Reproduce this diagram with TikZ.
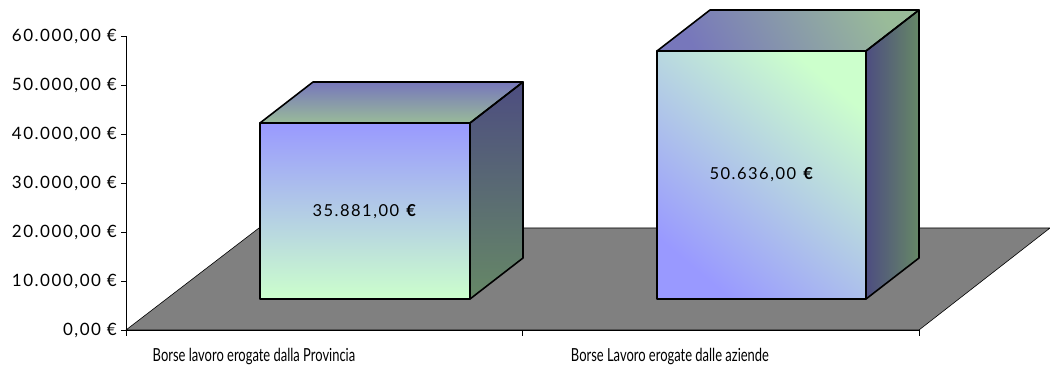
\documentclass[tikz,border=0pt]{standalone}
\usepackage{fontspec}
\setmainfont{Lato}[LetterSpace=9]
\newfontfamily\catfont{Lato}[FakeStretch=0.72]
\begin{document}
\begin{tikzpicture}[x=1pt,y=-1pt,
  axlab/.style={anchor=east,inner sep=0pt,font=\fontsize{17}{19}\selectfont},
  vallab/.style={inner sep=0pt,font=\fontsize{16.5}{18}\selectfont},
  catlab/.style={inner sep=0pt,font=\catfont\fontsize{18}{20}\selectfont},
  boxline/.style={draw=black,line width=1.6pt,line join=round},
  thinline/.style={draw=black,line width=0.7pt}]
\definecolor{fblue}{HTML}{9999FF}
\definecolor{fgreen}{HTML}{CCFFCC}
\definecolor{tblue}{HTML}{7777BB}
\definecolor{tgreen}{HTML}{99BB99}
\definecolor{sblue}{HTML}{4D4D80}
\definecolor{sgreen}{HTML}{668866}
\definecolor{floorgray}{HTML}{808080}
\useasboundingbox (0,0) rectangle (1050,374);
% floor
\filldraw[fill=floorgray,draw=black,line width=0.6pt] (126,330) -- (919,330) -- (1050,228) -- (259,228) -- cycle;
% axes
\draw[thinline] (126,36) -- (126,330) -- (919,330);
\foreach \i in {0,...,6} { \draw[thinline] (121,{330-49*\i}) -- (126,{330-49*\i}); }
\foreach \x in {126,522,919} { \draw[thinline] (\x,330) -- (\x,336); }
% axis labels
\node[axlab] (y0) at (117,330) {0,00 €};
\node[axlab] (y1) at (117,281) {10.000,00 €};
\node[axlab] (y2) at (117,232) {20.000,00 €};
\node[axlab] (y3) at (117,183) {30.000,00 €};
\node[axlab] (y4) at (117,134) {40.000,00 €};
\node[axlab] (y5) at (117,85) {50.000,00 €};
\node[axlab] (y6) at (117,36) {60.000,00 €};
% box 1
\shade[top color=tblue,bottom color=tgreen] (260,123) -- (313,82) -- (523,82) -- (470,123) -- cycle;
\shade[top color=sblue,bottom color=sgreen] (470,123) -- (523,82) -- (523,258) -- (470,299) -- cycle;
\shade[top color=fblue,bottom color=fgreen] (260,123) rectangle (470,299);
\draw[boxline] (260,123) -- (313,82) -- (523,82) -- (470,123) -- cycle;
\draw[boxline] (470,123) -- (523,82) -- (523,258) -- (470,299) -- cycle;
\draw[boxline] (260,123) rectangle (470,299);
% box 2
\shade[top color=tgreen,bottom color=tblue,shading angle=-60] (657,51) -- (710,10) -- (919,10) -- (866,51) -- cycle;
\shade[left color=sblue,right color=sgreen] (866,51) -- (919,10) -- (919,258) -- (866,299) -- cycle;
\shade[top color=fgreen,bottom color=fblue,shading angle=-40] (657,51) rectangle (866,299);
\draw[boxline] (657,51) -- (710,10) -- (919,10) -- (866,51) -- cycle;
\draw[boxline] (866,51) -- (919,10) -- (919,258) -- (866,299) -- cycle;
\draw[boxline] (657,51) rectangle (866,299);
% value labels
\node[vallab] (v1) at (365,212) {35.881,00 \textbf{€}};
\node[vallab] (v2) at (762,175) {50.636,00 \textbf{€}};
% category labels
\node[catlab] (c1) at (254,357) {Borse lavoro erogate dalla Provincia};
\node[catlab] (c2) at (670,357) {Borse Lavoro erogate dalle aziende};
\end{tikzpicture}
\end{document}
